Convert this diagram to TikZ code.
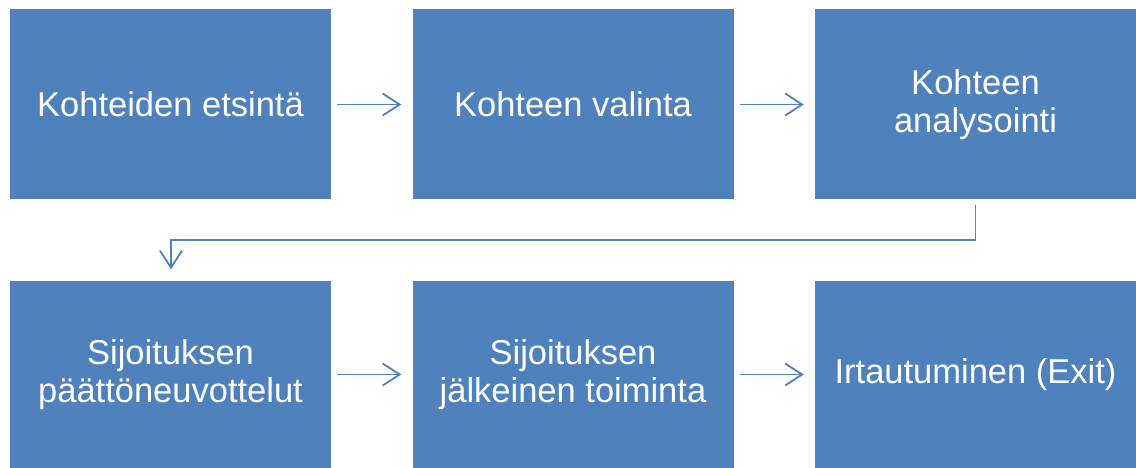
\documentclass[tikz,border=0pt]{standalone}
\usepackage{fontspec}
\setmainfont{Liberation Sans}
\usetikzlibrary{arrows.meta}
\definecolor{boxblue}{HTML}{4F81BD}
\definecolor{linkblue}{HTML}{4F81BD}
\begin{document}
\begin{tikzpicture}[x=1pt,y=-1pt,
  stage/.style={fill=boxblue, draw=none, minimum width=321pt, minimum height=190pt,
    inner sep=0pt, text=white, align=center,
    font=\fontsize{34.5}{38}\selectfont},
  link/.style={draw=linkblue, line width=1.8pt,
    -{Straight Barb[length=17pt,width=22pt,line width=1.8pt]}}]
\useasboundingbox (0,0) rectangle (1136,468);
% first row
\node[stage] (s1) at (170.5,104.5) {Kohteiden etsintä};
\node[stage] (s2) at (573,104.5) {Kohteen valinta};
\node[stage] (s3) at (975.5,104.5) {Kohteen\\analysointi};
% second row
\node[stage, minimum height=188pt] (s4) at (170.5,374.5) {Sijoituksen\\päättöneuvottelut};
\node[stage, minimum height=188pt] (s5) at (573,374.5) {Sijoituksen\\jälkeinen toiminta};
\node[stage, minimum height=188pt] (s6) at (975.5,374.5) {Irtautuminen (Exit)};
% connectors
\draw[link] ([xshift=6pt]s1.east) -- ([xshift=-11pt]s2.west);
\draw[link] ([xshift=6pt]s2.east) -- ([xshift=-11pt]s3.west);
\draw[link] ([xshift=6pt]s4.east) -- ([xshift=-11pt]s5.west);
\draw[link] ([xshift=6pt]s5.east) -- ([xshift=-11pt]s6.west);
\coordinate (turn) at (0,240);
\draw[link] ([yshift=-5pt]s3.south) -- (s3.south |- turn) -- ([xshift=0.5pt]s4.north |- turn)
  -- ([xshift=0.5pt,yshift=11pt]s4.north);
\end{tikzpicture}
\end{document}
